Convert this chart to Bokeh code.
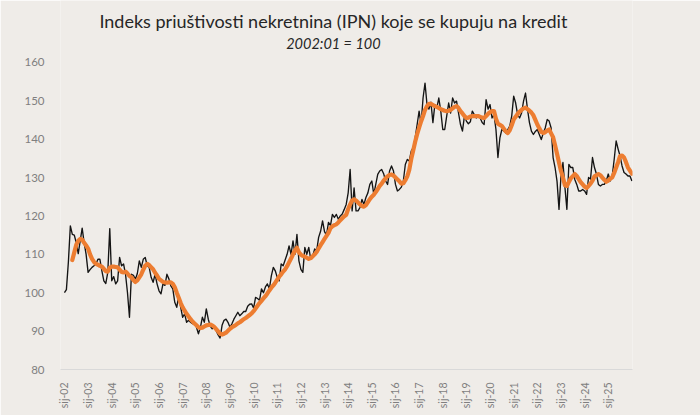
import math
from bokeh.plotting import figure
from bokeh.models import FixedTicker, Range1d, Label, ColumnDataSource
from bokeh.embed import file_html
from bokeh.resources import INLINE

# ---- data ----
title_text = "Indeks priuštivosti nekretnina (IPN) koje se kupuju na kredit"
subtitle_text = "2002:01 = 100"

tick_labels = ["sij-%02d" % y for y in range(2, 26)]
tick_months = [12 * i for i in range(len(tick_labels))]

# monthly index, Jan 2002 ... Jan 2026
ipn = [
    100, 100.8, 108, 117.4, 115.2, 115, 113, 110.2, 113.5, 116.8, 113, 110,
    105.3, 106, 106.6, 107, 107.5, 108.7, 108.7, 105.7, 103.1, 102.4, 105.3, 116.7,
    103.1, 104.2, 102.3, 103.1, 109.2, 107, 107.5, 104.8, 100, 93.6, 104.8, 104.5,
    103.5, 105, 108.3, 106.6, 108.7, 109.2, 107, 106.6, 104, 102.7, 104.8, 102.3,
    100.5, 99.7, 102.3, 101.9, 104.8, 103.6, 101.8, 101, 97.5, 96.2, 99.2, 96.2,
    93.6, 94.5, 92.3, 92.8, 92.3, 91.9, 92.3, 91, 89.3, 91, 93.6, 92.3,
    95.8, 93.1, 91.3, 90.6, 91.1, 90.1, 89, 88.2, 91.5, 92.8, 93.1, 92.3,
    91, 91.9, 93.1, 94, 94.9, 94, 94.5, 95.1, 95.1, 96.5, 97, 97.1,
    96, 98.8, 98.5, 98, 101, 100, 101.5, 102.3, 101, 104.4, 106.6, 105.7,
    104, 103.1, 107.5, 107, 108.5, 110, 112.2, 110, 113.5, 110, 115.2, 108.3,
    106.1, 105.3, 111.8, 110, 111.8, 108.7, 109.6, 111.4, 110.9, 114.4, 116, 118.7,
    115.9, 115, 118.3, 117.5, 120.4, 119.6, 120.4, 119.1, 120, 120.5, 121.7, 123,
    126, 132.1, 121.3, 127.3, 121.3, 121.3, 122.2, 124.3, 123, 124.8, 126, 128.2,
    129.1, 125.6, 128.2, 130.8, 131.7, 132.1, 131, 129.1, 128.2, 131.7, 133, 131.7,
    128.2, 126.5, 126.9, 127.5, 129.1, 133.4, 134.7, 134.3, 136.9, 137.8, 140.3, 143.8,
    147.3, 143.8, 150.7, 154.6, 149, 147.8, 149.6, 144.3, 149, 148.2, 150.7, 147.3,
    142.5, 142.5, 146, 149.4, 146.8, 150.7, 149.4, 149.9, 146.8, 143.8, 142.1, 146,
    144.7, 144, 144.5, 147.3, 146.4, 145.5, 146, 145.5, 144.3, 143.8, 150.3, 147.8,
    149, 145.5, 146.4, 142.5, 135.2, 140.3, 142.5, 142.1, 141.6, 142.5, 143.4, 146,
    151.2, 149.4, 146.4, 145.5, 146.8, 149.9, 152, 147.8, 144.3, 142.1, 141.2, 142,
    142.5, 141.2, 139.9, 141.5, 142.9, 145.1, 144.7, 142.9, 135.2, 132.6, 129, 121.7,
    130.4, 133.9, 127.5, 121.7, 133.4, 132.6, 132.6, 129.5, 128.2, 126.5, 126.5, 126.9,
    126.5, 125.6, 130, 129.6, 135.2, 132.6, 130.9, 128.2, 127.8, 128.2, 128.2, 129.1,
    130.9, 129.1, 130.4, 134.7, 139.5, 137.4, 135.6, 133, 131.3, 130.9, 130.4, 130.4,
    129.1,
]

# smoothed (orange) line, May 2002 ... Jan 2026
ipn_smooth_start = 4
ipn_smooth = [
    108.5, 110.5, 112.5, 113.5, 114, 113.8, 113, 112.3,
    111.5, 110, 108.8, 108, 107.5, 107.3, 107, 106.8, 106.2, 105.6, 105.5, 106.5,
    106.8, 106.8, 106.7, 106.6, 106, 105.4, 105.3, 105.5, 105, 104.4, 104, 103.3,
    102.8, 103.2, 104, 104.8, 106, 107, 107.5, 107.2, 106.6, 106.1, 105.2, 104.5,
    103.6, 103.2, 102.8, 102.7, 102.6, 102.7, 102.7, 102.3, 101.4, 100, 98.7, 97.3,
    96.2, 95.3, 94.5, 93.8, 93.1, 92.5, 92, 91.5, 91, 90.8, 90.9, 91.2,
    91.5, 91.6, 91.7, 91.5, 91.1, 90.5, 89.9, 89.3, 89.1, 89.3, 89.6, 90.1,
    90.6, 91, 91.3, 91.6, 92, 92.3, 92.7, 93.1, 93.4, 93.8, 94.2, 94.6,
    95.2, 95.9, 96.6, 97.3, 97.9, 98.5, 99.1, 99.8, 100.6, 101.3, 101.9, 102.6,
    103.4, 104.2, 104.8, 105.5, 106.1, 106.9, 107.9, 108.9, 110, 111, 111.7, 110.5,
    109.9, 109.6, 109.4, 109.1, 108.8, 109, 109.5, 110, 110.6, 111.5, 112.4, 113.2,
    114, 114.8, 115.6, 116.8, 117.3, 117.6, 117.8, 118.3, 118.9, 119.4, 119.9, 120.3,
    121.8, 123, 124, 124.3, 124, 123.5, 123, 122.6, 122.4, 122.8, 123.6, 124.4,
    125, 125.5, 126.2, 127, 127.8, 128.4, 129.2, 129.8, 130.3, 130.7, 130.8, 130.5,
    130, 129.5, 129, 128.4, 128.5, 129.3, 130.3, 132, 134.8, 137, 139.3, 141.3,
    143, 144.6, 146, 147.6, 148.6, 149.2, 149.2, 148.9, 148.6, 148.4, 148.1, 147.8,
    147.6, 147.4, 147.3, 147.4, 147.6, 148, 148.4, 148.6, 148.1, 147.3, 146.7, 146,
    145.5, 145.6, 145.9, 146, 146, 146, 146, 145.8, 145.6, 145.5, 146, 146.6,
    147, 147.3, 147.3, 145.3, 144, 143.7, 143.4, 142.7, 142, 141.6, 142.3, 143.6,
    145.1, 145.8, 146.6, 147.1, 147.6, 148, 148.2, 147.8, 147.4, 146.9, 146.2, 145,
    143.8, 142.8, 141.9, 141.6, 141.8, 142.2, 142.5, 141.5, 140.5, 138.4, 136.2, 133.9,
    131.7, 130, 128, 127.8, 128.8, 129.8, 130.3, 130.9, 130.4, 129.6, 128.8, 128.2,
    127.6, 127.3, 127.8, 128.4, 129.2, 130.3, 130.6, 130.9, 130.6, 130, 129.4, 128.9,
    129.2, 129.7, 130, 131.2, 132.6, 134, 135.6, 135.7, 135.2, 134, 132.6, 131.8,
    131,
]

y_ticks = [80, 90, 100, 110, 120, 130, 140, 150, 160]

# ---- styling ----
BG = "#EFECE8"
FONT = "Lato"
GRAY = "#7F7F7F"

p = figure(
    frame_width=572, frame_height=369,
    min_border_left=60, min_border_right=68, min_border_top=0, min_border_bottom=46,
    x_range=Range1d(-2.0, 288.3), y_range=Range1d(80, 176.1),
    output_backend="svg", toolbar_location=None,
    background_fill_color=BG, border_fill_color=BG, outline_line_color=None,
)

src_raw = ColumnDataSource(dict(m=list(range(len(ipn))), v=ipn))
src_smooth = ColumnDataSource(dict(
    m=list(range(ipn_smooth_start, ipn_smooth_start + len(ipn_smooth))), v=ipn_smooth))

p.line("m", "v", source=src_raw, line_color="#141414", line_width=1.35, line_join="round")
p.line("m", "v", source=src_smooth, line_color="#ED7D31", line_width=4.2,
       line_join="round", line_cap="round")

p.grid.visible = False

ya = p.yaxis[0]
ya.ticker = FixedTicker(ticks=y_ticks)
ya.axis_line_color = None
ya.major_tick_line_color = None
ya.minor_tick_line_color = None
ya.major_label_standoff = 10
ya.major_label_text_font = FONT
ya.major_label_text_font_size = "11.5px"
ya.major_label_text_color = GRAY

xa = p.xaxis[0]
xa.ticker = FixedTicker(ticks=tick_months)
xa.major_label_overrides = {m: lab for m, lab in zip(tick_months, tick_labels)}
xa.major_label_orientation = math.pi / 2
xa.axis_line_color = "#D9D9D9"
xa.axis_line_width = 1
xa.major_tick_line_color = None
xa.minor_tick_line_color = None
xa.major_label_standoff = 7
xa.major_label_text_font = FONT
xa.major_label_text_font_size = "10.5px"
xa.major_label_text_color = GRAY

p.add_layout(Label(x=136.5, y=170.7, text=title_text, text_align="center",
                   text_baseline="alphabetic", text_font=FONT, text_font_size="18px",
                   text_color="#262626"))
p.add_layout(Label(x=136.5, y=164.8, text=subtitle_text, text_align="center",
                   text_baseline="alphabetic", text_font=FONT, text_font_size="14.5px",
                   text_font_style="italic", text_color="#262626"))

open("out.html", "w").write(file_html(p, INLINE))
